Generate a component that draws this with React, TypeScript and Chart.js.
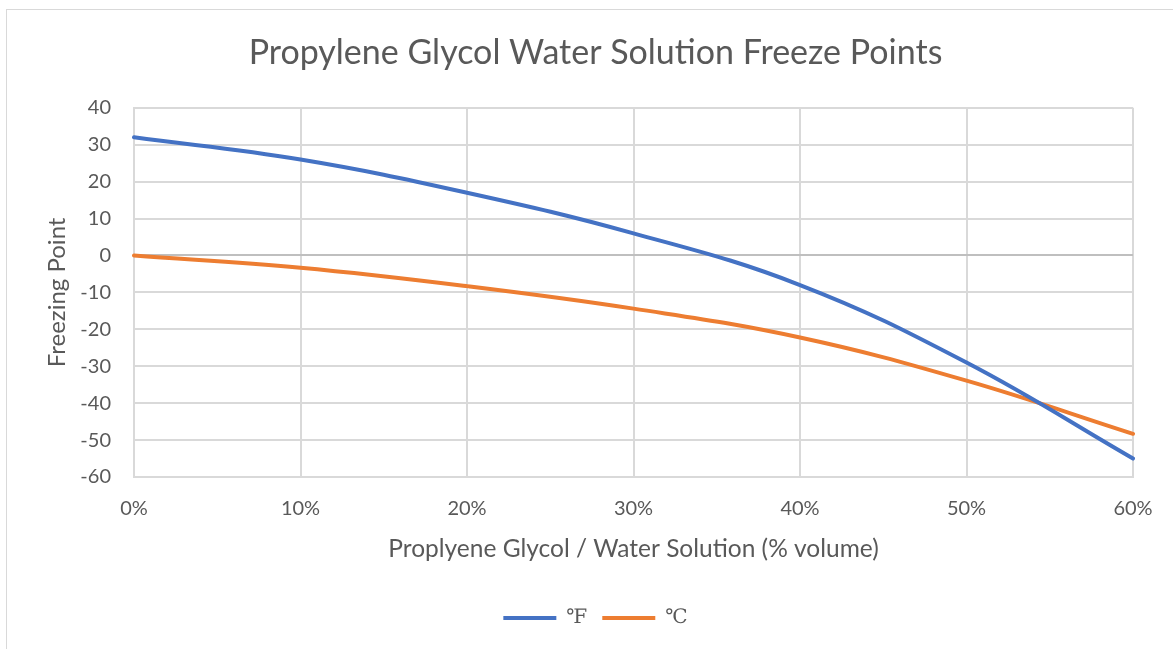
import React, { useEffect, useRef } from "react";
import { Chart, registerables } from "chart.js";

Chart.register(...registerables);

const categories = ["0%", "10%", "20%", "30%", "40%", "50%", "60%"];
const fahrenheit = [32, 26, 17, 6, -8, -29, -55];
const celsius = [0, -3.3, -8.3, -14.4, -22.2, -33.9, -48.3];
const seriesLabels = ["\u2109", "\u2103"];
const titleText = "Propylene Glycol Water Solution Freeze Points";
const xTitle = "Proplyene Glycol / Water Solution (% volume)";
const yTitle = "Freezing Point";

const TEXT = "#595959";
const GRID = "#d9d9d9";
const FONT = "Lato, 'Open Sans', sans-serif";

export default function App() {
  const ref = useRef<HTMLCanvasElement | null>(null);

  useEffect(() => {
    if (!ref.current) return;
    const chart = new Chart(ref.current, {
      type: "line",
      data: {
        labels: categories,
        datasets: [
          {
            label: seriesLabels[0],
            data: fahrenheit,
            borderColor: "#4472C4",
            backgroundColor: "#4472C4",
            borderWidth: 4,
            borderCapStyle: "round",
            pointRadius: 0,
            tension: 0.4,
            fill: false,
          },
          {
            label: seriesLabels[1],
            data: celsius,
            borderColor: "#ED7D31",
            backgroundColor: "#ED7D31",
            borderWidth: 4,
            borderCapStyle: "round",
            pointRadius: 0,
            tension: 0.4,
            fill: false,
          },
        ],
      },
      options: {
        animation: false,
        responsive: false,
        maintainAspectRatio: false,
        layout: { padding: { left: 58, right: 40, top: 0, bottom: 11 } },
        plugins: {
          title: {
            display: true,
            text: titleText,
            color: TEXT,
            font: { family: FONT, size: 34, weight: "normal" },
            padding: { top: 33, bottom: 34 },
          },
          legend: {
            position: "bottom",
            labels: {
              usePointStyle: true,
              pointStyle: "line",
              pointStyleWidth: 53,
              color: TEXT,
              font: { family: "'DejaVu Serif', 'Liberation Serif', serif", size: 20 },
              padding: 15,
            },
          },
          tooltip: { enabled: false },
        },
        scales: {
          x: {
            type: "category",
            offset: false,
            grid: { color: GRID, lineWidth: 2, drawTicks: false },
            border: { color: GRID, width: 2 },
            ticks: {
              color: TEXT,
              font: { family: FONT, size: 20 },
              padding: 20,
              maxRotation: 0,
            },
            title: {
              display: true,
              text: xTitle,
              color: TEXT,
              font: { family: FONT, size: 24.5 },
              padding: { top: 0, bottom: 29.6 },
            },
            afterFit: (scale: any) => {
              scale.height = 116;
            },
          },
          y: {
            min: -60,
            max: 40,
            grid: {
              color: (ctx: any) => (ctx.tick && ctx.tick.value === 0 ? "#bfbfbf" : GRID),
              lineWidth: 2,
              drawTicks: false,
            },
            border: { color: GRID, width: 2 },
            ticks: {
              stepSize: 10,
              color: TEXT,
              font: { family: FONT, size: 20 },
              padding: 23,
            },
            title: {
              display: true,
              text: yTitle,
              color: TEXT,
              font: { family: FONT, size: 24 },
              padding: { top: -15.4, bottom: 0 },
            },
            afterFit: (scale: any) => {
              scale.width = 76;
            },
          },
        },
      },
    });
    return () => chart.destroy();
  }, []);

  return (
    <div
      style={{
        position: "fixed",
        left: 0,
        top: 0,
        width: 1173,
        height: 649,
        background: "#fff",
        overflow: "hidden",
      }}
    >
      <div
        style={{
          position: "absolute",
          left: 6,
          top: 9,
          width: 1200,
          height: 700,
          border: "1px solid #d9d9d9",
          boxSizing: "border-box",
        }}
      />
      <canvas
        ref={ref}
        width={1173}
        height={649}
        style={{ position: "absolute", left: 0, top: 0, width: 1173, height: 649 }}
      />
    </div>
  );
}
